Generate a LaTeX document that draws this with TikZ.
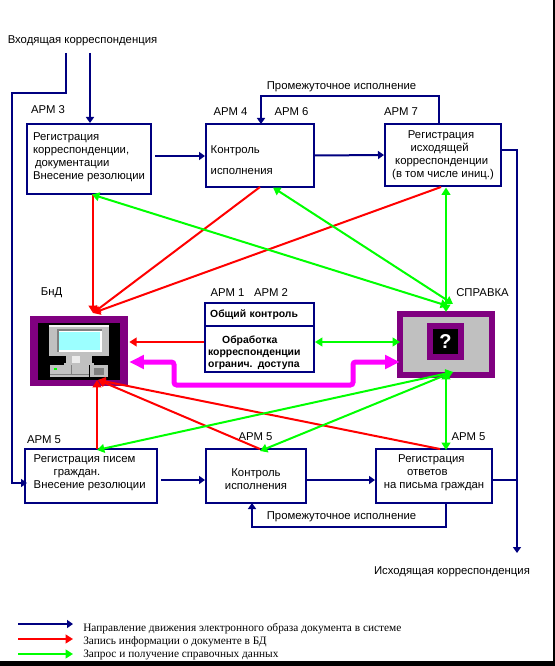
\documentclass[tikz,border=0pt]{standalone}
\usepackage{fontspec}
\setmainfont{Liberation Sans}
\newfontfamily\legendfont{Liberation Serif}
\usetikzlibrary{arrows.meta,calc}
\definecolor{navyc}{HTML}{000080}
\definecolor{redc}{HTML}{FF0000}
\definecolor{greenc}{HTML}{00FF00}
\definecolor{magc}{HTML}{FF00FF}
\definecolor{purplec}{HTML}{800080}
\definecolor{grayc}{HTML}{C0C0C0}
\definecolor{darkc}{HTML}{808080}
\definecolor{screenc}{HTML}{9CFFFF}

\begin{document}
\begin{tikzpicture}[x=0.75pt,y=-0.75pt,
      every node/.style={font=\fontsize{8.5}{9.75}\selectfont, inner sep=0pt},
      txt/.style={text=black, yshift=-1pt},
      box/.style={draw=navyc, line width=1.5pt, fill=white, align=center},
      navyl/.style={draw=navyc, line width=1.5pt, -{Triangle[length=4.5pt,width=6pt]}},
      plainl/.style={draw=navyc, line width=1.5pt},
      redl/.style={draw=redc, line width=1.5pt, -{Triangle[length=5.5pt,width=6.5pt]}},
      greenl/.style={draw=greenc, line width=1.5pt, {Triangle[length=5.5pt,width=6.5pt]}-{Triangle[length=5.5pt,width=6.5pt]}},
      magl/.style={draw=magc, line width=3.75pt, rounded corners=2pt,
                   {Triangle[length=11pt,width=10pt]}-{Triangle[length=11pt,width=10pt]}},
      legend/.style={font=\legendfont\fontsize{8.5}{9}\selectfont, anchor=west}]
    \useasboundingbox (0,0) rectangle (555,666);
    \fill[black] (553,0) rectangle (555,666);
    \fill[black] (0,661) rectangle (555,666);

    % top row
    \node[box, minimum width=93pt, minimum height=52.5pt, align=left] (arm3) at (89,159)
      {Регистрация\\корреспонденции,\\\hspace*{1.5pt}документации\\Внесение резолюции\rule[-4pt]{0pt}{0pt}};
    \node[box, minimum width=81pt, minimum height=47.25pt, align=left, text width=74pt] (arm4) at (260,155.5)
      {\rule{0pt}{13.5pt}Контроль\\[6pt]исполнения};
    \node[box, minimum width=87pt, minimum height=46.5pt] (arm7) at (443,155)
      {\hspace*{-3pt}Регистрация\\\hspace*{-5pt}исходящей\\\hspace*{-2pt}корреспонденции\\(в том числе иниц.)};

    % middle row
    \node[box, minimum width=81.75pt, minimum height=17.25pt, font=\bfseries\fontsize{7.8}{9.75}\selectfont,
          align=left, text width=74pt] (obsh) at (259.5,314.5) {Общий контроль};
    \node[box, minimum width=81.75pt, minimum height=34.5pt, font=\bfseries\fontsize{7.8}{9}\selectfont,
          align=left, text width=77pt] (obrab) at (259.5,349)
      {\rule{0pt}{12pt}\hspace*{10.5pt}Обработка\\корреспонденции\\огранич. доступа};
    \node[fill=purplec, minimum width=73.5pt, minimum height=52.5pt] (bnd) at (79,351) {};
    \node[fill=black, minimum width=61.5pt, minimum height=42.75pt] (bndin) at (79,351.5) {};
    \node[fill=purplec, minimum width=73.5pt, minimum height=50.25pt] (spr) at (446,344.5) {};
    \node[fill=grayc, minimum width=64.5pt, minimum height=41.25pt] (sprin) at (446,344.5) {};
    \node[fill=purplec, minimum width=27.75pt, minimum height=27.75pt] (qfr) at (445.5,341.5) {};
    \node[fill=black, text=white, minimum width=18.75pt, minimum height=18.75pt,
          font=\bfseries\fontsize{15}{15}\selectfont] (qm) at (445.5,341.5) {?};

    % computer
    \fill[grayc] (49,325) rectangle (109,356);
    \fill[white!85!grayc] (49,325) rectangle (109,327);
    \fill[darkc] (57,329) rectangle (102,352);
    \fill[white] (59,331) rectangle (102,352);
    \fill[screenc] (59,332) rectangle (100,350);
    \fill[grayc] (66,356) rectangle (92,363);
    \fill[white!70!grayc] (72,356) rectangle (80,363);
    \fill[grayc] (64,363) rectangle (94,365);
    \fill[grayc] (50,365) rectangle (89,377);
    \draw[darkc, line width=0.6pt] (50,374) -- (89,374) (71,365) -- (71,374);
    \fill[greenc] (54,367.5) rectangle (57,369.5);
    \fill[grayc] (90,365) rectangle (108,377);
    \fill[darkc] (94,368) rectangle (104,375);

    % bottom row
    \node[box, minimum width=99pt, minimum height=40.5pt, align=left] (pis) at (91,476)
      {\hspace*{-2pt}Регистрация писем\\\hspace*{13pt}граждан.\\\hspace*{-2pt}Внесение резолюции\rule[-6pt]{0pt}{0pt}};
    \node[box, minimum width=75pt, minimum height=40.5pt] (kon) at (256,476)
      {\rule{0pt}{11pt}Контроль\\исполнения};
    \node[box, minimum width=87pt, minimum height=40.5pt] (otv) at (434,476)
      {\hspace*{-4pt}Регистрация\\\hspace*{-10pt}ответов\\на письма граждан\rule[-6pt]{0pt}{0pt}};

    % labels
    \node[txt] (vhod) at (82.5,39) {Входящая корреспонденция};
    \node[txt] (ish) at (452,570) {Исходящая корреспонденция};
    \node[txt] (promt) at (341.5,85) {Промежуточное исполнение};
    \node[txt] (promb) at (341.5,515) {Промежуточное исполнение};
    \node[txt] (l3) at (48,108) {АРМ 3};
    \node[txt] (l4) at (230.5,110) {АРМ 4};
    \node[txt] (l6) at (291.5,110) {АРМ 6};
    \node[txt] (l7) at (401,110) {АРМ 7};
    \node[txt] (lbnd) at (51.5,291) {БнД};
    \node[txt] (l1) at (227.5,291) {АРМ 1};
    \node[txt] (l2) at (271,291) {АРМ 2};
    \node[txt] (lspr) at (482.5,291) {СПРАВКА};
    \node[txt] (l5a) at (44,438) {АРМ 5};
    \node[txt] (l5b) at (255.5,435) {АРМ 5};
    \node[txt] (l5c) at (468.5,435) {АРМ 5};

    % navy connectors
    \coordinate (inv) at (90,53);
    \coordinate (inw) at (66,53);
    \coordinate (outend) at (517,553);
    \draw[navyl] (inv) -- (inv |- arm3.north);
    \draw[navyl] (inw) -- (66,93) -- (12,93) -- (12,483) -- ($(pis.west)+(3,7)$);
    \draw[navyl] ($(arm3.east)+(3,-3)$) -- ($(arm4.west)+(0,0.5)$);
    \draw[navyl] (arm4.east) -- (arm7.west);
    \draw[navyl] ($(arm7.north)+(-4,0)$) -- (439,96) -- (261,96) -- (261,124);
    \draw[navyl] (arm7.east |- 0,150) -- (517,150) -- (outend);
    \draw[plainl] ($(otv.east)+(0,4)$) -- (517,480);
    \draw[navyl] ($(pis.east)+(3,4)$) -- ($(kon.west)+(0,4)$);
    \draw[navyl] ($(kon.east)+(0,4)$) -- ($(otv.west)+(0,4)$);
    \draw[navyl] ($(otv.south)+(12,0)$) -- (446,527) -- (252,527) -- (252,503);

    % red connectors
    \coordinate (bndtop) at (93,313);
    \coordinate (bndbot) at (98,380);
    \draw[redl] (93,194) -- (bndtop);
    \foreach \x in {260,441}
      \draw[redl] (\x,187) -- (bndtop);
    \draw[redl] ($(obrab.west)+(0,-7)$) -- ($(bnd.east)+(1,-9)$);
    \draw[redl] (97,449) -- (97,380);
    \foreach \x in {260,440}
      \draw[redl] (\x,449) -- (bndbot);

    % green connectors
    \draw[greenl] (92,194.5) -- (448,306);
    \draw[greenl] (273,187.5) -- (453,304);
    \draw[greenl] (446,187.5) -- (446,312);
    \draw[greenl] ($(obrab.east)+(0,-7)$) -- (400,342);
    \draw[greenl] (446,372) -- (446,450);
    \draw[greenl] (97,450) -- (453,372);
    \draw[greenl] (260,451) -- (453,372);

    % double line between the bases
    \draw[magl] ($(bnd.east)+(1,11)$) -- (174,362) -- (174,385) -- (353,385) -- (353,362) -- ($(spr.west)+(3,17.5)$);

    % legend
    \coordinate (k1) at (18,624);
    \coordinate (k2) at (18,639);
    \coordinate (k3) at (18,654);
    \draw[navyl] (k1) -- ++(55,0);
    \draw[redl] (k2) -- ++(55,0);
    \draw[draw=greenc, line width=1.5pt, -{Triangle[length=5.5pt,width=6.5pt]}] (k3) -- ++(55,0);
    \node[legend] (t1) at (83,629) {Направление движения электронного образа документа в системе};
    \node[legend] (t2) at (83,642) {Запись информации о документе в БД};
    \node[legend] (t3) at (83,655) {Запрос и получение справочных данных};
  \end{tikzpicture}
\end{document}
